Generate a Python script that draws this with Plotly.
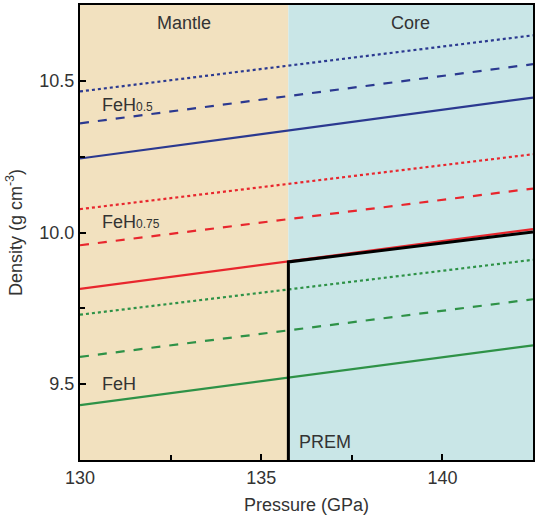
import plotly.graph_objects as go

# Data
pressure = [130.0, 142.5]
feh05_dot = [10.465, 10.650]
feh05_dash = [10.360, 10.555]
feh05_solid = [10.244, 10.445]
feh075_dot = [10.077, 10.258]
feh075_dash = [9.958, 10.145]
feh075_solid = [9.814, 10.011]
feh_dot = [9.729, 9.910]
feh_dash = [9.590, 9.780]
feh_solid = [9.431, 9.628]
prem_p = [135.75, 135.75, 142.5]
prem_rho = [9.25, 9.903, 10.002]
cmb = 135.75
x_range = [130, 142.5]
y_range = [9.25, 10.75]

BLUE = "#2B3990"
RED = "#E8262D"
GREEN = "#2E9247"

fig = go.Figure()

# Region backgrounds
fig.add_shape(type="rect", xref="x", yref="y", x0=x_range[0], x1=cmb, y0=y_range[0], y1=y_range[1],
              fillcolor="#F2E1BF", line_width=0, layer="below")
fig.add_shape(type="rect", xref="x", yref="y", x0=cmb, x1=x_range[1], y0=y_range[0], y1=y_range[1],
              fillcolor="#C9E6E7", line_width=0, layer="below")

series = [
    (feh05_dot, BLUE, "dot"), (feh05_dash, BLUE, "dash"), (feh05_solid, BLUE, "solid"),
    (feh075_dot, RED, "dot"), (feh075_dash, RED, "dash"), (feh075_solid, RED, "solid"),
    (feh_dot, GREEN, "dot"), (feh_dash, GREEN, "dash"), (feh_solid, GREEN, "solid"),
]
for ys, c, d in series:
    fig.add_trace(go.Scatter(x=pressure, y=ys, mode="lines",
                             line=dict(color=c, width=2.2, dash=d), showlegend=False))

fig.add_trace(go.Scatter(x=prem_p, y=prem_rho, mode="lines",
                         line=dict(color="black", width=3), showlegend=False))

font = dict(family="Liberation Sans, Arial, sans-serif", size=18, color="#333333")

anns = [
    dict(x=(x_range[0] + cmb) / 2, y=10.69, text="Mantle"),
    dict(x=(cmb + x_range[1]) / 2, y=10.69, text="Core"),
    dict(x=130.55, y=10.42, text="FeH<span style='font-size:12px'>0.5</span>", xanchor="left"),
    dict(x=130.55, y=10.035, text="FeH<span style='font-size:12px'>0.75</span>", xanchor="left"),
    dict(x=130.55, y=9.50, text="FeH", xanchor="left"),
    dict(x=136.0, y=9.31, text="PREM", xanchor="left"),
]
for a in anns:
    fig.add_annotation(xref="x", yref="y", showarrow=False, font=font,
                       xanchor=a.get("xanchor", "center"), yanchor="middle",
                       x=a["x"], y=a["y"], text=a["text"])

axis_common = dict(
    showgrid=False, zeroline=False, showline=True, linecolor="black", linewidth=2,
    mirror=True, ticks="inside", ticklen=6, tickwidth=1.5, tickcolor="black",
    tickfont=font,
)

fig.update_xaxes(range=x_range, tickvals=[130, 135, 140], ticktext=["130", "135", "140"],
                 minor=dict(tickvals=[132.5, 137.5], ticks="inside", ticklen=5, tickcolor="black", tickwidth=1.5),
                 title=dict(text="Pressure (GPa)", font=font, standoff=12), **axis_common)
fig.update_yaxes(range=y_range, tickvals=[9.5, 10.0, 10.5], ticktext=["9.5", "10.0", "10.5"],
                 minor=dict(tickvals=[9.75, 10.25], ticks="inside", ticklen=5, tickcolor="black", tickwidth=1.5),
                 title=dict(text="Density (g cm<sup>-3</sup>)", font=font, standoff=12), **axis_common)

fig.update_layout(
    width=538, height=518,
    margin=dict(l=80, r=3, t=4, b=58),
    plot_bgcolor="white", paper_bgcolor="white",
    font=font,
)

fig.write_html("out.html", config={"displayModeBar": False},
               post_script="document.body.style.margin='0px';")
